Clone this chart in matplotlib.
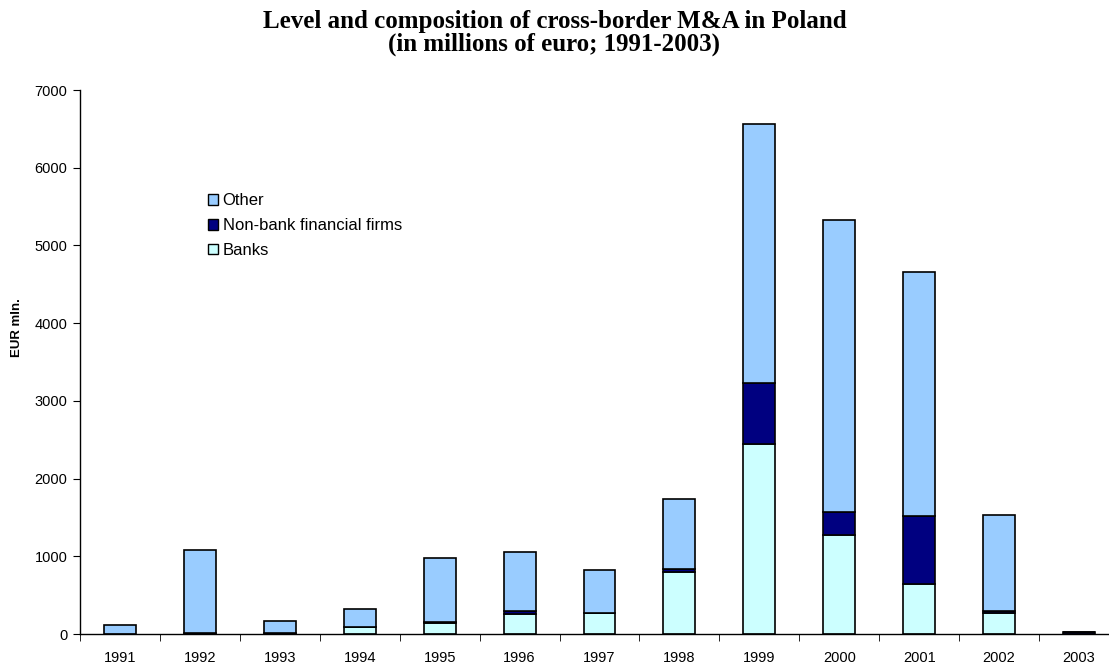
import numpy as np
import matplotlib
matplotlib.use("Agg")
import matplotlib.pyplot as plt
from matplotlib.patches import Patch

years = ["1991", "1992", "1993", "1994", "1995", "1996", "1997",
         "1998", "1999", "2000", "2001", "2002", "2003"]
banks = [0, 0, 0, 90, 140, 255, 270, 800, 2440, 1275, 645, 265, 0]
nonbank = [0, 10, 15, 0, 15, 40, 0, 40, 790, 295, 875, 35, 20]
other = [116, 1070, 150, 230, 825, 765, 554, 900, 3330, 3755, 3140, 1230, 0]

plt.rcParams['font.family'] = ['Liberation Sans', 'DejaVu Sans']

fig = plt.figure(figsize=(11.09, 6.64), dpi=100)
ax = fig.add_axes([80 / 1109, 30 / 664, 1039 / 1109, 544 / 664])

x = np.arange(len(years))
w = 0.4
banks = np.array(banks)
nonbank = np.array(nonbank)
other = np.array(other)

ax.bar(x, banks, w, color='#CCFFFF', edgecolor='black', linewidth=1.2, label='Banks')
ax.bar(x, nonbank, w, bottom=banks, color='#000080', edgecolor='black',
       linewidth=1.2, label='Non-bank financial firms')
ax.bar(x, other, w, bottom=banks + nonbank, color='#99CCFF', edgecolor='black',
       linewidth=1.2, label='Other')

ax.set_xlim(-0.5, len(years) - 0.5)
ax.set_ylim(0, 7000)
ax.set_yticks(range(0, 7001, 1000))
ax.set_xticks(x)
ax.set_xticklabels(years)
ax.set_xticks(np.arange(-0.5, len(years), 1), minor=True)
ax.tick_params(axis='x', which='major', length=0, pad=12, labelsize=10.5)
ax.tick_params(axis='x', which='minor', length=5, direction='out')
ax.tick_params(axis='y', length=5, direction='out', labelsize=10.5, pad=4)
for s in ['top', 'right']:
    ax.spines[s].set_visible(False)
for s in ['left', 'bottom']:
    ax.spines[s].set_linewidth(1)
    ax.spines[s].set_color('black')

ax.set_ylabel('EUR mln.', fontsize=9.5, fontweight='bold')
ax.yaxis.set_label_coords(-0.055, 0.564)

handles = [Patch(facecolor='#99CCFF', edgecolor='black', label='Other'),
           Patch(facecolor='#000080', edgecolor='black', label='Non-bank financial firms'),
           Patch(facecolor='#CCFFFF', edgecolor='black', label='Banks')]
ax.legend(handles=handles, loc='upper left', bbox_to_anchor=(0.1165, 0.822),
          frameon=False, fontsize=12, handlelength=0.6, handleheight=0.6,
          handletextpad=0.3, labelspacing=0.58, borderaxespad=0)

fig.text(0.5, 1 - 10 / 664, 'Level and composition of cross-border M&A in Poland\n(in millions of euro; 1991-2003)',
         ha='center', va='top', fontsize=18, fontweight='bold',
         family=['Liberation Serif', 'DejaVu Serif'], linespacing=1.0)

fig.savefig('out.png', dpi=100)
